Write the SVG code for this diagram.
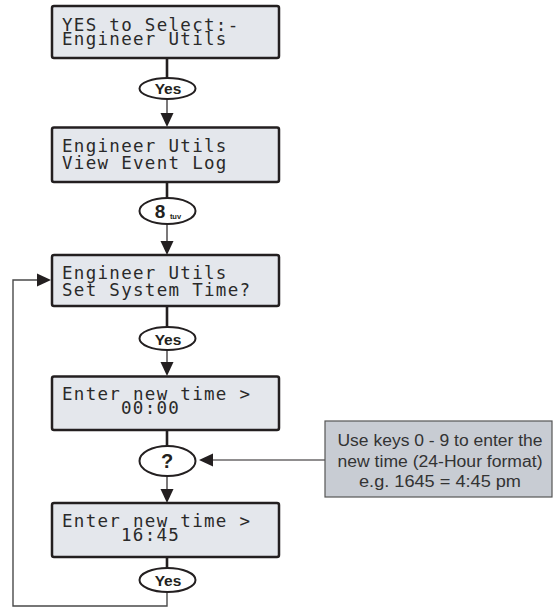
<svg xmlns="http://www.w3.org/2000/svg" width="555" height="608" viewBox="0 0 555 608">
<style>
.lcd{fill:#e4e7ec;stroke:#231f20;stroke-width:2.5}
.lt{font-family:"DejaVu Sans Mono","Liberation Mono",monospace;font-size:17.5px;letter-spacing:1.3px;fill:#2a2a2a}
.key{fill:#fff;stroke:#231f20;stroke-width:2}
.kt{font-family:"Liberation Sans",Arial,sans-serif;font-weight:bold;fill:#231f20;text-anchor:middle}
.thick{stroke:#231f20;stroke-width:2.6;fill:none}
.thin{stroke:#231f20;stroke-width:1.2;fill:none}
.loop{stroke:#4a4a4a;stroke-width:1.4;fill:none}
.ah{fill:#231f20}
.note{fill:#c8ccd3;stroke:#555;stroke-width:1.2}
.nt{font-family:"Liberation Sans",Arial,sans-serif;font-size:16px;fill:#333;text-anchor:middle}
</style>
<g id="connectors">
<line class="thick" x1="167" y1="58" x2="167" y2="78"/>
<line class="thin" x1="167" y1="99" x2="167" y2="114"/>
<polygon class="ah" points="167,127 160.5,113 173.5,113"/>
<line class="thick" x1="167" y1="182" x2="167" y2="198"/>
<line class="thin" x1="167" y1="224" x2="167" y2="242"/>
<polygon class="ah" points="167,255 160.5,241 173.5,241"/>
<line class="thick" x1="167" y1="306" x2="167" y2="327"/>
<line class="thin" x1="167" y1="350" x2="167" y2="363"/>
<polygon class="ah" points="167,376 160.5,362 173.5,362"/>
<line class="thick" x1="167" y1="430" x2="167" y2="446"/>
<line class="thin" x1="167" y1="476" x2="167" y2="490"/>
<polygon class="ah" points="167,503 160.5,489 173.5,489"/>
<line class="thick" x1="167" y1="557" x2="167" y2="568"/>
<polyline class="loop" points="167,592 167,606 13,606 13,280 38,280"/>
<polygon class="ah" points="51,280 37,273.5 37,286.5"/>
<line class="thin" x1="325" y1="460" x2="212" y2="460"/>
<polygon class="ah" points="199,460 213,453.5 213,466.5"/>
</g>
<g id="lcd1">
<rect class="lcd" x="52" y="6" width="227" height="52" rx="2"/>
<text class="lt" x="62" y="30.5">YES to Select:-</text>
<text class="lt" x="62" y="45">Engineer Utils</text>
</g>
<g id="key-yes1">
<ellipse class="key" cx="167.5" cy="88.5" rx="28" ry="10.5"/>
<text class="kt" x="168" y="94" font-size="15.5">Yes</text>
</g>
<g id="lcd2">
<rect class="lcd" x="52" y="127.5" width="227" height="54.5" rx="2"/>
<text class="lt" x="62" y="152">Engineer Utils</text>
<text class="lt" x="62" y="169">View Event Log</text>
</g>
<g id="key-8">
<ellipse class="key" cx="167.5" cy="211" rx="28" ry="13"/>
<text class="kt" x="160" y="218" font-size="19">8</text>
<text class="kt" x="175.5" y="218.5" font-size="7.5">tuv</text>
</g>
<g id="lcd3">
<rect class="lcd" x="52" y="255" width="227" height="51" rx="2"/>
<text class="lt" x="62" y="279">Engineer Utils</text>
<text class="lt" x="62" y="296">Set System Time?</text>
</g>
<g id="key-yes2">
<ellipse class="key" cx="167.5" cy="338.5" rx="28" ry="11.5"/>
<text class="kt" x="168" y="344.5" font-size="15.5">Yes</text>
</g>
<g id="lcd4">
<rect class="lcd" x="52" y="376.5" width="227" height="53.5" rx="2"/>
<text class="lt" x="62" y="399.5">Enter new time &gt;</text>
<text class="lt" x="121" y="413.5">00:00</text>
</g>
<g id="key-query">
<ellipse class="key" cx="167.5" cy="461" rx="28" ry="15"/>
<text class="kt" x="167" y="468" font-size="20">?</text>
</g>
<g id="lcd5">
<rect class="lcd" x="52" y="503" width="227" height="54" rx="2"/>
<text class="lt" x="62" y="526.5">Enter new time &gt;</text>
<text class="lt" x="121" y="540.5">16:45</text>
</g>
<g id="key-yes3">
<ellipse class="key" cx="167.5" cy="580" rx="28" ry="12"/>
<text class="kt" x="168" y="586" font-size="15.5">Yes</text>
</g>
<g id="note">
<rect class="note" x="325" y="421" width="227" height="76"/>
<text class="nt" x="440" y="446" textLength="205" lengthAdjust="spacingAndGlyphs">Use keys 0 - 9 to enter the</text>
<text class="nt" x="440" y="467" textLength="205" lengthAdjust="spacingAndGlyphs">new time (24-Hour format)</text>
<text class="nt" x="440" y="487" textLength="162" lengthAdjust="spacingAndGlyphs">e.g. 1645 = 4:45 pm</text>
</g>
</svg>
